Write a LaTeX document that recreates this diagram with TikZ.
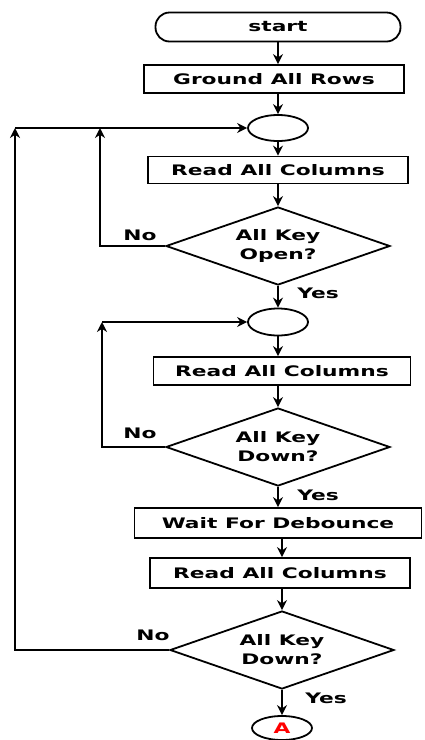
\documentclass[tikz,border=0pt]{standalone}
\usepackage{fontspec}
\newfontfamily\chartfont{DejaVu Sans}[FakeStretch=1.5]
\usepackage{tikz}
\usetikzlibrary{positioning}
\usetikzlibrary{arrows.meta}
\usetikzlibrary{shapes.geometric}
\usepackage{xcolor}

\begin{document}
\begin{tikzpicture}[x=1pt, y=-1pt, line width=1.8pt,
  every node/.style={align=center, inner sep=0pt,
    font=\chartfont\bfseries\fontsize{14.5}{19}\selectfont},
  procbox/.style={draw, rectangle, minimum width=260pt, minimum height=28pt},
  termbox/.style={draw, rectangle, rounded corners=14pt, minimum width=245pt, minimum height=29pt},
  joinpt/.style={draw, ellipse, minimum width=60pt, minimum height=26pt},
  testbox/.style={draw, diamond, aspect=2.85, minimum width=224pt, minimum height=78pt},
  arr/.style={line width=2.4pt, -{Stealth[length=10pt, width=10pt]}}]
  \useasboundingbox (0,0) rectangle (424,740);
  % main column
  \node[termbox] (start) at (278,27) {start};
  \node[procbox] (ground) at (274,79) {Ground All Rows};
  \node[joinpt] (join1) at (278,128) {};
  \node[procbox, minimum height=27pt] (read1) at (278,170) {Read All Columns};
  \node[testbox] (test1) at (278,246) {All Key\\Open?};
  \node[joinpt, minimum height=27pt] (join2) at (278,322) {};
  \node[procbox, minimum width=257pt] (read2) at (282,371) {Read All Columns};
  \node[testbox] (test2) at (278,447) {All Key\\Down?};
  \node[procbox, minimum width=287pt, minimum height=30pt] (wait) at (278,523) {Wait For Debounce};
  \node[procbox, minimum height=30pt] (read3) at (280,573) {Read All Columns};
  \node[testbox] (test3) at (282,650) {All Key\\Down?};
  \node[joinpt, minimum height=24pt] (conA) at (282,728) {\textcolor{red}{A}};
  % labels
  \node (no1) at (140,235) {No};
  \node (no2) at (140,433) {No};
  \node (no3) at (153,635) {No};
  \node (yes1) at (318,293) {Yes};
  \node (yes2) at (318,495) {Yes};
  \node (yes3) at (326,698) {Yes};
  % loop corners
  \coordinate (outer) at (15,128);
  \coordinate (inner1) at (100,128);
  \coordinate (inner2) at (102,322);
  % arrows
  \draw[arr] (start) -- (start |- ground.north);
  \draw[arr] (join1 |- ground.south) -- (join1);
  \draw[arr] (join1) -- (read1);
  \draw[arr] (read1) -- (test1);
  \draw[arr] (test1) -- (join2);
  \draw[arr] (join2) -- (join2 |- read2.north);
  \draw[arr] (test2 |- read2.south) -- (test2);
  \draw[arr] (test2) -- (wait);
  \draw[arr] (test3 |- wait.south) -- (test3 |- read3.north);
  \draw[arr] (test3 |- read3.south) -- (test3);
  \draw[arr] (test3) -- (conA);
  \draw[arr, line width=1.8pt] (test1.west) -| (inner1);
  \draw[arr, line width=1.8pt] (test3.west) -| (outer);
  \draw[arr, line width=1.8pt] (outer) -- (join1.west);
  \draw[arr, line width=1.8pt] (test2.west) -| (inner2);
  \draw[arr, line width=1.8pt] (inner2) -- (join2.west);
\end{tikzpicture}
\end{document}
